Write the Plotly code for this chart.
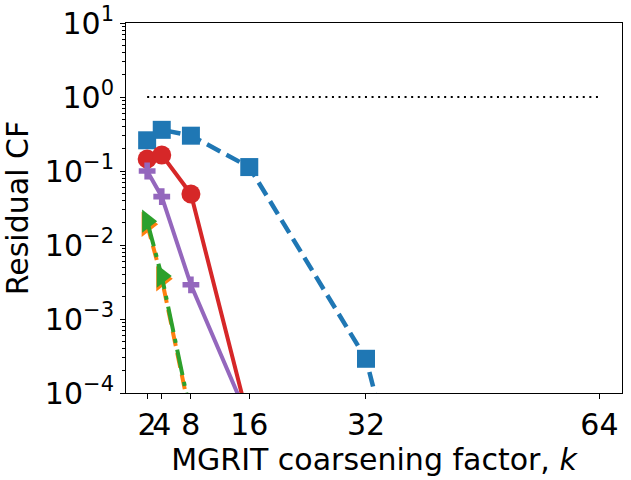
import plotly.graph_objects as go

# coarsening factors
k = [2, 4, 8, 16, 32, 64]

# residual convergence factors
cf_blue = [0.26, 0.36, 0.30, 0.113, 2.9e-4, 1.5e-16]
cf_orange = [0.019, 0.0035, 4.5e-5]
cf_green = [0.021, 0.0038, 5e-5]
cf_red = [0.145, 0.165, 0.049, 3.9e-5]
cf_purple = [0.10, 0.045, 0.0029, 4.2e-5]

ytick_vals = [1e-4, 1e-3, 1e-2, 1e-1, 1e0, 1e1]
ytick_text = ['10<sup>\u22124</sup>', '10<sup>\u22123</sup>', '10<sup>\u22122</sup>',
              '10<sup>\u22121</sup>', '10<sup>0</sup>', '10<sup>1</sup>']
xtick_text = ['2', '4', '8', '16', '32', '64']

minor_y = [m * 10.0 ** e for e in range(-4, 1) for m in range(2, 10)]

FONT = 'DejaVu Sans'

fig = go.Figure()

# reference line at CF = 1
fig.add_trace(go.Scatter(x=[k[0], k[-1]], y=[1, 1], mode='lines',
                         line=dict(color='black', width=2, dash='2px,4.6px')))

fig.add_trace(go.Scatter(x=k, y=cf_blue, mode='lines+markers',
                         line=dict(color='#1f77b4', width=4.5, dash='15px,7px'),
                         marker=dict(symbol='square', size=18, color='#1f77b4')))
fig.add_trace(go.Scatter(x=k[:3], y=cf_orange, mode='lines+markers',
                         line=dict(color='#ff7f0e', width=4, dash='15px,7px'),
                         marker=dict(symbol='triangle-right', size=22, color='#ff7f0e')))
fig.add_trace(go.Scatter(x=k[:3], y=cf_green, mode='lines+markers',
                         line=dict(color='#2ca02c', width=4, dash='26px,7px,4px,7px'),
                         marker=dict(symbol='triangle-right', size=20, color='#2ca02c')))
fig.add_trace(go.Scatter(x=k[:4], y=cf_red, mode='lines+markers',
                         line=dict(color='#d62728', width=4),
                         marker=dict(symbol='circle', size=19, color='#d62728')))
fig.add_trace(go.Scatter(x=k[:4], y=cf_purple, mode='lines+markers',
                         line=dict(color='#9467bd', width=4),
                         marker=dict(symbol='cross', size=14, color='#9467bd')))

fig.update_layout(
    width=631, height=480,
    margin=dict(l=126, r=9, t=23, b=87),
    paper_bgcolor='white', plot_bgcolor='white',
    showlegend=False,
    font=dict(family=FONT, size=30, color='black'),
)
fig.update_xaxes(
    range=[-0.9, 67.1], tickvals=k, ticktext=xtick_text, tickangle=0,
    tickfont=dict(family=FONT, size=30),
    ticks='outside', ticklen=5, tickwidth=1, tickcolor='black',
    showline=True, linecolor='black', linewidth=1, mirror=True,
    showgrid=False, zeroline=False, automargin=False,
    title=dict(text='MGRIT coarsening factor, <i>k</i>', standoff=2,
               font=dict(family=FONT, size=30)),
)
fig.update_yaxes(
    type='log', range=[-4, 1], tickvals=ytick_vals, ticktext=ytick_text,
    tickfont=dict(family=FONT, size=30),
    ticks='outside', ticklen=5, tickwidth=1, tickcolor='black',
    showline=True, linecolor='black', linewidth=1, mirror=True,
    showgrid=False, zeroline=False, automargin=False,
    minor=dict(tickvals=minor_y, ticks='outside', ticklen=3, tickwidth=0.8,
               tickcolor='black', showgrid=False),
    title=dict(text='Residual CF', standoff=10,
               font=dict(family=FONT, size=30)),
)

# the page's default body margin would shift the figure by 8px
fig.write_html('out.html', config={'displayModeBar': False},
               post_script="document.body.style.margin='0';")
